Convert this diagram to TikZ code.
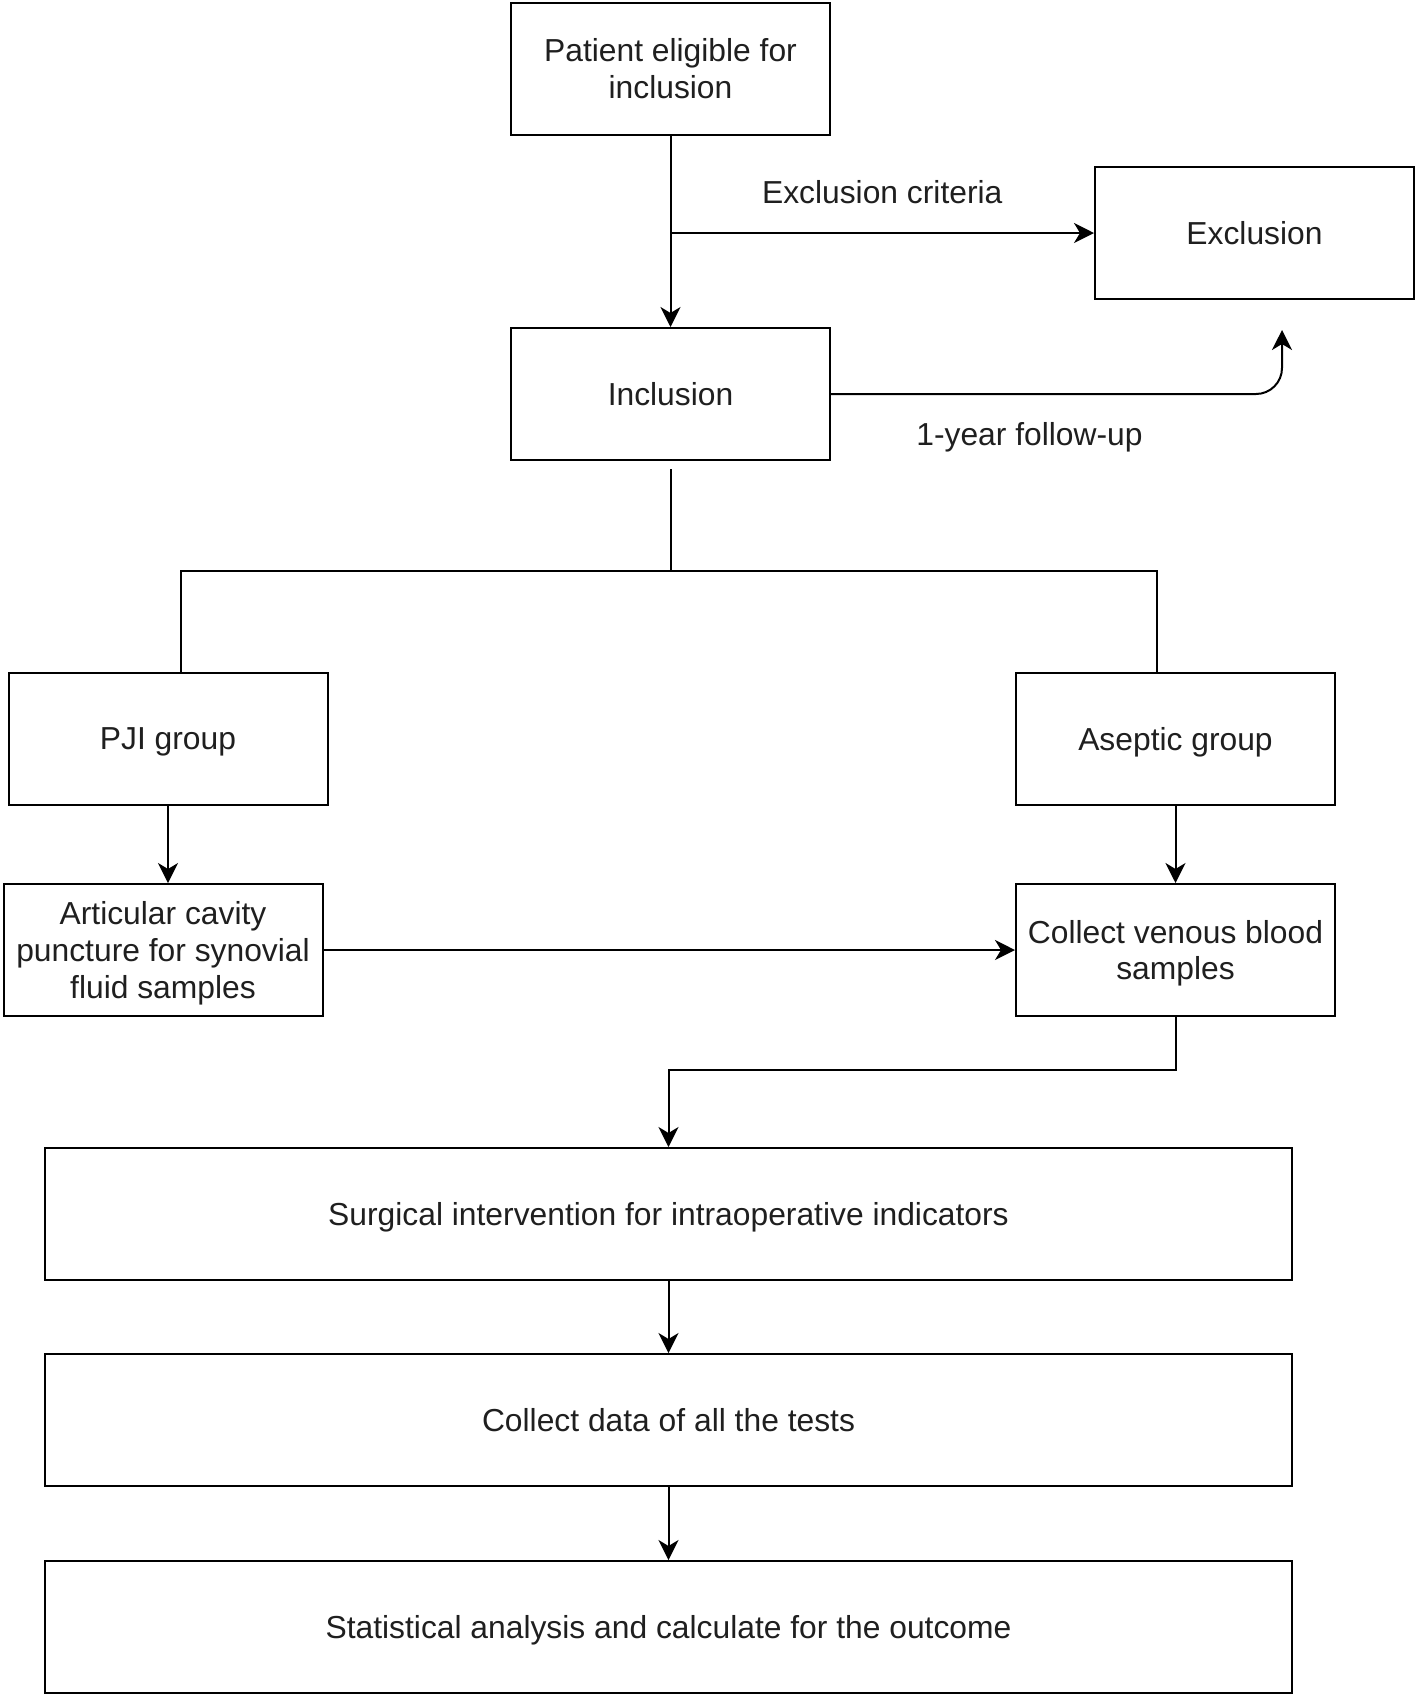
\documentclass[tikz,border=0pt]{standalone}
\usepackage{fontspec}
\setmainfont{Liberation Sans}
\usetikzlibrary{arrows.meta}
\begin{document}
\begin{tikzpicture}
		[x=0.5pt,y=-0.5pt,line width=1pt,>={Stealth[length=10pt,width=10pt,inset=3pt]},
		 box/.style={draw,line width=1pt,minimum width=159.5pt,minimum height=66pt,align=center,inner sep=2pt,text depth=0pt},
		 wide/.style={box,minimum width=623.5pt},
		 every node/.style={font=\fontsize{15.9}{18.4}\selectfont,text=black!88}]
		\useasboundingbox (0,0) rectangle (1418,1699);

		% the boxes
		\node [box] (pat) at (670.5,68.5) {Patient eligible for\\inclusion};
		\node [box] (excl) at (1254.5,233) {Exclusion};
		\node [box] (incl) at (670.5,394) {Inclusion};
		\node [box] (pji) at (168,738.5) {PJI group};
		\node [box] (asep) at (1175.5,738.5) {Aseptic group};
		\node [box] (artic) at (163,950) {Articular cavity\\puncture for synovial\\fluid samples};
		\node [box] (venous) at (1175.5,950) {Collect venous blood\\samples};
		\node [wide] (surg) at (668.5,1214) {Surgical intervention for intraoperative indicators};
		\node [wide] (data) at (668.5,1420) {Collect data of all the tests};
		\node [wide] (stat) at (668.5,1627) {Statistical analysis and calculate for the outcome};

		% inclusion and exclusion
		\draw [->] (pat.south) -- (incl.north);
		\coordinate (split) at (pat.south |- excl.west);
		\draw [->] (split) -- node[midway,yshift=20.5pt]{Exclusion criteria} (excl.west);
		\coordinate (fu) at (1282,330);
		\draw [->,rounded corners=13pt] (incl.east) -- node[pos=0.44,yshift=-21.5pt]{1-year follow-up} (incl.east -| fu) -- (fu);

		% the two groups
		\coordinate (fork) at (670.5,571);
		\draw [shorten <=4pt] (incl.south) -- (fork) -| ([xshift=6.5pt]pji.north);
		\draw (fork) -| ([xshift=-9.25pt]asep.north);
		\draw [->] (pji.south) -- (pji.south |- artic.north);
		\draw [->] (asep.south) -- (venous.north);
		\draw [->] (artic.east) -- (venous.west);

		% the rest of the steps
		\coordinate (join) at (668.5,1070);
		\draw [->] (venous.south) |- (join) -- (surg.north);
		\draw [->] (surg.south) -- (data.north);
		\draw [->] (data.south) -- (stat.north);
	\end{tikzpicture}
\end{document}
